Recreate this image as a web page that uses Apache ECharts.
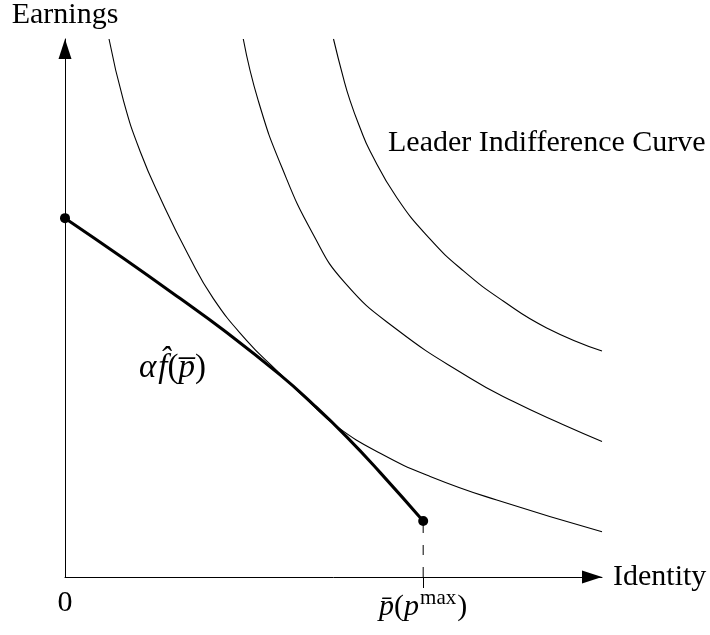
<!DOCTYPE html>
<html>
<head>
<meta charset="utf-8">
<script src="https://cdn.jsdelivr.net/npm/echarts@6/dist/echarts.min.js"></script>
<style>
html, body { margin: 0; padding: 0; background: #fff; }
#chart { width: 710px; height: 635px; }
</style>
</head>
<body>
<div id="chart"></div>
<script>
// thick frontier  alpha * f^(p)
const frontier = [[0, 6.67], [1.08, 5.93], [2.14, 5.18], [2.95, 4.59], [4.00, 3.76], [4.62, 3.21], [5.25, 2.60], [5.87, 1.94], [6.67, 1.04]]
// leader indifference curves, inner -> outer
const leaderCurve1 = [[0.82, 10.0], [1.09, 8.85], [1.40, 7.91], [1.80, 6.99], [2.30, 5.98], [2.76, 5.18], [3.38, 4.40], [3.94, 3.84], [4.50, 3.30], [5.06, 2.80], [5.87, 2.30], [6.80, 1.87], [8.04, 1.43], [10.0, 0.84]]
const leaderCurve2 = [[3.32, 10.0], [3.60, 8.85], [4.04, 7.61], [4.62, 6.37], [5.21, 5.47], [6.18, 4.60], [7.54, 3.70], [8.35, 3.26], [9.28, 2.83], [10.0, 2.52]]
const leaderCurve3 = [[5.00, 10.0], [5.18, 9.29], [5.31, 8.85], [5.49, 8.36], [5.68, 7.92], [6.18, 7.05], [6.80, 6.28], [7.42, 5.69], [8.16, 5.13], [8.97, 4.63], [10.0, 4.20]]
const pMax = 6.67
const xTickValues = [0, pMax]
const xTickTexts = ['0', '{i|p\u0304}{r|(}{i|p}{s|max}{r|)}']

const FONT = 'Liberation Serif'
const black = '#000'

const thin = (data) => ({
  type: 'line',
  data: data,
  smooth: 0.5,
  symbol: 'none',
  clip: false,
  silent: true,
  lineStyle: { color: black, width: 1.1 }
})

const chart = echarts.init(document.getElementById('chart'))
const option = {
  animation: false,
  backgroundColor: '#fff',
  grid: { left: 65, right: 108, top: 39, bottom: 58, outerBoundsMode: 'none' },
  xAxis: {
    type: 'value',
    min: 0,
    max: 10,
    name: 'Identity',
    nameLocation: 'end',
    nameGap: 11,
    nameTextStyle: { fontFamily: FONT, fontSize: 30, color: black },
    splitLine: { show: false },
    axisLine: { lineStyle: { color: black, width: 1 }, symbol: ['none', 'triangle'], symbolSize: [13, 20], symbolOffset: [0, -10] },
    axisTick: { show: true, customValues: [pMax], length: 11, lineStyle: { color: black, width: 1 } },
    axisLabel: {
      customValues: xTickValues,
      margin: 11,
      fontFamily: FONT,
      fontSize: 30,
      color: black,
      formatter: (v) => xTickTexts[xTickValues.indexOf(v)],
      rich: {
        i: { fontFamily: FONT, fontSize: 30, fontStyle: 'italic', color: black, verticalAlign: 'bottom', lineHeight: 34 },
        r: { fontFamily: FONT, fontSize: 30, color: black, verticalAlign: 'bottom', lineHeight: 34 },
        s: { fontFamily: FONT, fontSize: 21, color: black, verticalAlign: 'top', lineHeight: 34, padding: [0, 1, 0, 1] }
      }
    }
  },
  yAxis: {
    type: 'value',
    min: 0,
    max: 10,
    name: 'Earnings',
    nameLocation: 'end',
    nameGap: 9,
    nameTextStyle: { fontFamily: FONT, fontSize: 30, color: black },
    splitLine: { show: false },
    axisLine: { lineStyle: { color: black, width: 1 }, symbol: ['none', 'triangle'], symbolSize: [13, 20], symbolOffset: [0, -10] },
    axisTick: { show: false },
    axisLabel: { show: false }
  },
  graphic: [
    {
      type: 'text',
      left: 388,
      top: 128,
      style: { text: 'Leader Indifference Curve', font: '30px "' + FONT + '"', fill: black }
    },
    {
      type: 'text',
      left: 139,
      top: 352,
      style: {
        text: '{i|\u03b1}{g| }{i|f\u0302}{r|(}{i|p\u0305}{r|)}',
        fill: black,
        rich: {
          i: { fontFamily: FONT, fontSize: 33, fontStyle: 'italic', fill: black },
          r: { fontFamily: FONT, fontSize: 33, fill: black },
          g: { fontFamily: FONT, fontSize: 8, fill: black }
        }
      }
    }
  ],
  series: [
    thin(leaderCurve1),
    thin(leaderCurve2),
    thin(leaderCurve3),
    {
      type: 'line',
      data: [[pMax, 0], [pMax, frontier[frontier.length - 1][1]]],
      symbol: 'none',
      clip: false,
      silent: true,
      lineStyle: { color: black, width: 1, type: [10, 12] }
    },
    {
      type: 'line',
      data: frontier,
      smooth: 0.5,
      symbol: 'none',
      clip: false,
      silent: true,
      lineStyle: { color: black, width: 3 }
    },
    {
      type: 'scatter',
      data: [frontier[0], frontier[frontier.length - 1]],
      symbol: 'circle',
      symbolSize: 10,
      clip: false,
      silent: true,
      itemStyle: { color: black, opacity: 1 }
    }
  ]
}
chart.setOption(option)
window.addEventListener('resize', () => {
  chart.resize()
})
</script>
</body>
</html>
